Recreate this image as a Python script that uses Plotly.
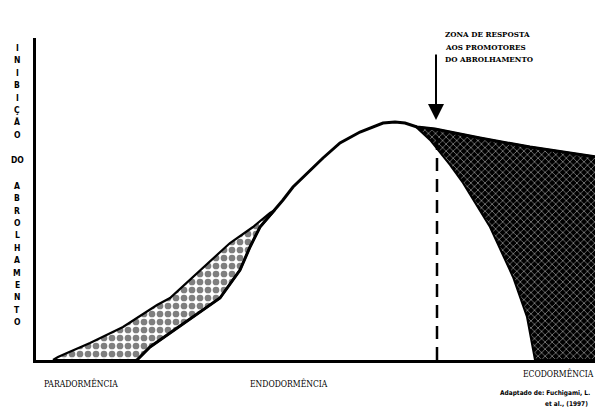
import plotly.graph_objects as go

# Values (time units on x, inhibition units on y)
main_t = [101, 114, 134, 164, 184, 204, 214, 224, 239, 247, 257, 267, 274, 287, 304, 324, 347, 359, 369, 381, 399, 444, 494, 567]
main_y = [0, 13, 27, 48, 62, 90, 113, 133, 150, 160, 173, 183, 190, 202, 217, 228, 237, 238, 237, 233, 231, 222, 213, 202]

para_t = [17, 22, 31, 54, 87, 121, 134, 164, 194, 217, 234, 239]
para_y = [0, 3, 7, 17, 33, 55, 62, 90, 117, 133, 147, 150]

eco_t = [379, 394, 414, 427, 454, 477, 491, 497, 499, 567]
eco_y = [234, 220, 195, 177, 133, 83, 43, 10, 0, 0]

response_t = 401
response_top = 230
arrow_tip_y = 240
arrow_top_y = 307

yaxis_letters = list("INIBIÇÃO") + ["DO"] + list("ABROLHAMENTO")
phase_labels = ["PARADORMÊNCIA", "ENDODORMÊNCIA", "ECODORMÊNCIA"]
zone_text = ["ZONA DE RESPOSTA", "AOS PROMOTORES", "DO ABROLHAMENTO"]
source_text = ["Adaptado de: Fuchigami, L.", "et al., (1997)"]

# plot area in page pixels (page has an 8px body offset)
PL, PT, PR, PB = 36, 38, 603, 360
OFF = 8
XMAX, YMAX = PR - PL, PB - PT


def paper(px, py):
    return (px - PL) / XMAX, (PB - py) / YMAX


fig = go.Figure()

# dotted region (paradormancy): upper curve then back down the main curve
j = main_t.index(para_t[-1])
poly_t = para_t + main_t[:j + 1][::-1] + [para_t[0]]
poly_y = para_y + main_y[:j + 1][::-1] + [para_y[0]]
fig.add_trace(go.Scatter(
    x=poly_t, y=poly_y, mode="lines", fill="toself",
    line=dict(color="black", width=2.2),
    fillpattern=dict(shape=".", fgcolor="black", bgcolor="white", size=8, solidity=0.55),
    hoverinfo="skip", showlegend=False))

# hatched region (ecodormancy)
k = main_t.index(381)
eco_poly_t = eco_t + main_t[k:][::-1] + [eco_t[0]]
eco_poly_y = eco_y + main_y[k:][::-1] + [eco_y[0]]
fig.add_trace(go.Scatter(
    x=eco_poly_t, y=eco_poly_y, mode="lines", fill="toself",
    line=dict(color="black", width=2),
    fillpattern=dict(shape="x", fgcolor="white", bgcolor="black", size=5, solidity=0.3),
    hoverinfo="skip", showlegend=False))

# main curve
fig.add_trace(go.Scatter(
    x=main_t, y=main_y, mode="lines", line=dict(color="black", width=3),
    hoverinfo="skip", showlegend=False))

# dashed response line
fig.add_trace(go.Scatter(
    x=[response_t, response_t], y=[0, response_top], mode="lines",
    line=dict(color="black", width=2.5, dash="13px,8px"),
    hoverinfo="skip", showlegend=False))

ann = []
# arrow
ann.append(dict(x=response_t - 1, y=arrow_tip_y, ax=response_t - 1, ay=arrow_top_y, axref="x", ayref="y",
                xref="x", yref="y", showarrow=True, arrowhead=2, arrowsize=1.6, arrowwidth=2,
                arrowcolor="black", text=""))
serif = "DejaVu Serif Condensed, Liberation Serif, serif"
narrow = "Liberation Sans Narrow, DejaVu Sans Condensed, Liberation Sans, Arial"
# zone text
for i, t in enumerate(zone_text):
    x, y = paper(443, 34 + i * 12.5)
    ann.append(dict(x=x, y=y, xref="paper", yref="paper", text=t, showarrow=False,
                    xanchor="left", yanchor="middle",
                    font=dict(family=serif, size=8, color="black", weight="bold")))
# y-axis vertical letters
ys = [48 + 12.4 * i for i in range(8)] + [160] + [186 + 12.36 * i for i in range(12)]
for letter, py in zip(yaxis_letters, ys):
    x, y = paper(17, py)
    ann.append(dict(x=x, y=y, xref="paper", yref="paper", text=letter, showarrow=False,
                    xanchor="center", yanchor="middle",
                    font=dict(family=narrow, size=8.5, color="black", weight="bold")))
# phase labels
phase_pos = [(42, 383, "left"), (248, 383, "left"), (596, 373, "right")]
for lab, (px, py, anc) in zip(phase_labels, phase_pos):
    x, y = paper(px, py)
    ann.append(dict(x=x, y=y, xref="paper", yref="paper", text=lab, showarrow=False, xanchor=anc,
                    yanchor="middle", font=dict(family=serif, size=8.5, color="black")))
# source
x, y = paper(592, 393)
ann.append(dict(x=x, y=y, xref="paper", yref="paper", text=source_text[0], showarrow=False, xanchor="right",
                yanchor="middle", font=dict(family=narrow, size=6.5, color="black", weight="bold")))
x, y = paper(590, 404)
ann.append(dict(x=x, y=y, xref="paper", yref="paper", text=source_text[1], showarrow=False, xanchor="right",
                yanchor="middle", font=dict(family=narrow, size=6.5, color="black", weight="bold")))

fig.update_layout(
    width=603, height=410,
    margin=dict(l=PL - OFF, r=603 - PR + OFF, t=PT - OFF, b=410 - PB + OFF),
    paper_bgcolor="white", plot_bgcolor="white",
    xaxis=dict(range=[0, XMAX], showline=True, linewidth=3, linecolor="black", showgrid=False,
               zeroline=False, showticklabels=False, ticks=""),
    yaxis=dict(range=[0, YMAX], showline=True, linewidth=3, linecolor="black", showgrid=False,
               zeroline=False, showticklabels=False, ticks=""),
    annotations=ann,
)

fig.write_html("out.html")
